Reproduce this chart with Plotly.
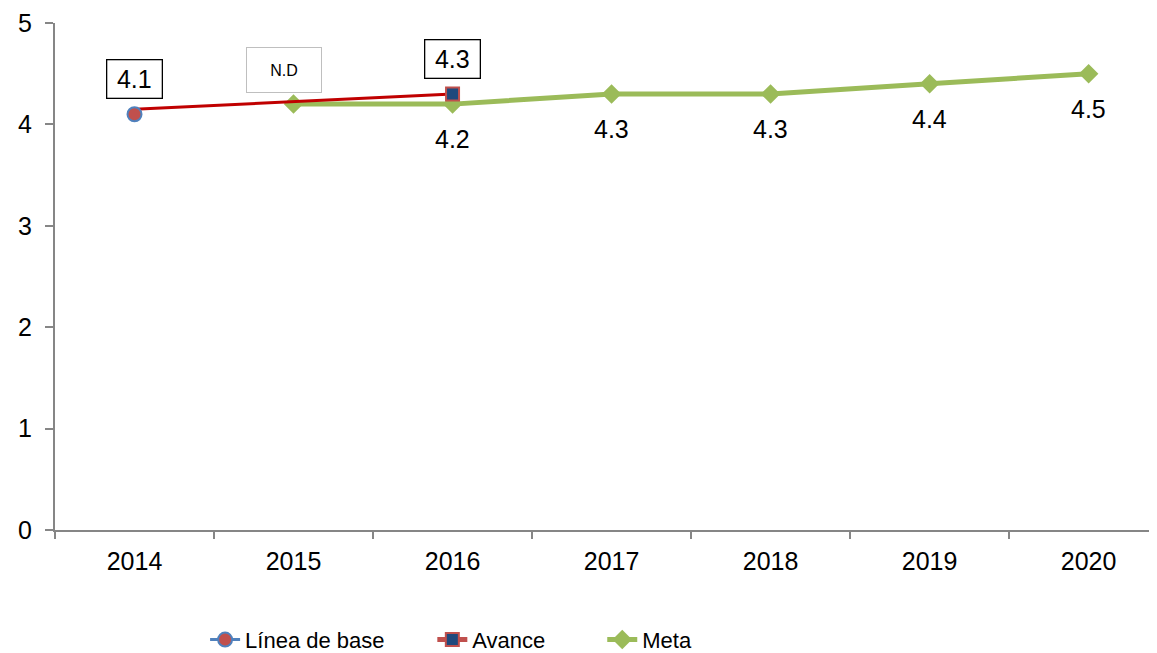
import plotly.graph_objects as go

years = ["2014", "2015", "2016", "2017", "2018", "2019", "2020"]
linea_base = [4.1, None, None, None, None, None, None]
avance = [4.15, None, 4.3, None, None, None, None]
avance_marker = [None, None, 4.3, None, None, None, None]
meta = [None, 4.2, 4.2, 4.3, 4.3, 4.4, 4.5]
meta_labels = ["", "", "4.2", "4.3", "4.3", "4.4", "4.5"]
box_labels = [("2014", 4.1, "4.1"), ("2016", 4.3, "4.3")]
nd_label = ("2015", 4.2, "N.D")
y_ticks = [0, 1, 2, 3, 4, 5]

FONT = "Liberation Sans, Arial, sans-serif"
AXIS = "#868686"

fig = go.Figure()

# Meta
fig.add_trace(go.Scatter(
    x=years, y=meta, name="Meta", mode="lines+markers",
    line=dict(color="#9BBB59", width=5),
    marker=dict(symbol="diamond", size=15, color="#9BBB59"),
    legend="legend3",
))
# Avance line (no markers)
fig.add_trace(go.Scatter(
    x=years, y=avance, mode="lines", connectgaps=True,
    line=dict(color="#C00000", width=3), showlegend=False, hoverinfo="skip",
))
# Avance marker
fig.add_trace(go.Scatter(
    x=years, y=avance_marker, mode="markers", showlegend=False,
    marker=dict(symbol="square", size=13, color="#1F497D",
                line=dict(color="#C0504D", width=2)),
))
# Linea de base
fig.add_trace(go.Scatter(
    x=years, y=linea_base, mode="lines+markers", name="Línea de base",
    line=dict(color="#4F81BD", width=3),
    marker=dict(symbol="circle", size=14, color="#C0504D",
                line=dict(color="#4F81BD", width=2)),
    legend="legend",
))
# legend entry for Avance
fig.add_trace(go.Scatter(
    x=[years[0]], y=[None], mode="lines+markers", name="Avance",
    line=dict(color="#C0504D", width=5),
    marker=dict(symbol="square", size=13, color="#1F497D",
                line=dict(color="#C0504D", width=2)),
    legend="legend2",
))

# Meta value labels
for yr, v, lab in zip(years, meta, meta_labels):
    if lab:
        fig.add_annotation(x=years.index(yr), y=v, xref="x", yref="y",
                           text=lab, showarrow=False, yshift=-35,
                           font=dict(family=FONT, size=25, color="black"))

# boxed labels
for yr, v, lab in box_labels:
    fig.add_annotation(x=years.index(yr), y=v, xref="x", yref="y",
                       text=lab, showarrow=False, yshift=35,
                       font=dict(family=FONT, size=25, color="black"),
                       bordercolor="black", borderwidth=1.3, bgcolor="white",
                       width=52, height=35, borderpad=1)
fig.add_annotation(x=years.index(nd_label[0]), y=nd_label[1], xref="x", yref="y",
                   text=nd_label[2], showarrow=False,
                   yshift=34, xshift=-10,
                   font=dict(family=FONT, size=16, color="black"),
                   bordercolor="#BFBFBF", borderwidth=1, bgcolor="white",
                   width=72, height=42, borderpad=1)

leg_common = dict(orientation="h", y=-0.2165, yanchor="middle", xanchor="left",
                  font=dict(family=FONT, size=22, color="black"),
                  bgcolor="rgba(0,0,0,0)", borderwidth=0)

fig.update_layout(
    width=1149, height=661,
    margin=dict(l=47, r=0, t=15, b=139),
    paper_bgcolor="white", plot_bgcolor="white",
    font=dict(family=FONT, size=25, color="black"),
    showlegend=True,
    legend=dict(x=0.1352 + 0.001, **leg_common),
    legend2=dict(x=0.3394 + 0.003, **leg_common),
    legend3=dict(x=0.4936 + 0.003, **leg_common),
)
fig.update_xaxes(
    type="category", range=[-0.5, 6.43], showgrid=False,
    showline=True, linecolor=AXIS, linewidth=2,
    ticks="outside", tickson="boundaries", ticklen=7, tickcolor=AXIS, tickwidth=2,
    tickfont=dict(family=FONT, size=25, color="black"),
    ticklabelstandoff=8, automargin=False,
)
fig.update_yaxes(
    range=[0, 5], tickvals=y_ticks, showgrid=False, zeroline=False,
    showline=True, linecolor=AXIS, linewidth=2,
    ticks="outside", ticklen=8, tickcolor=AXIS, tickwidth=2,
    tickfont=dict(family=FONT, size=25, color="black"),
    ticklabelstandoff=8, ticklabeloverflow="allow", automargin=False,
)

fig.write_html("out.html")
